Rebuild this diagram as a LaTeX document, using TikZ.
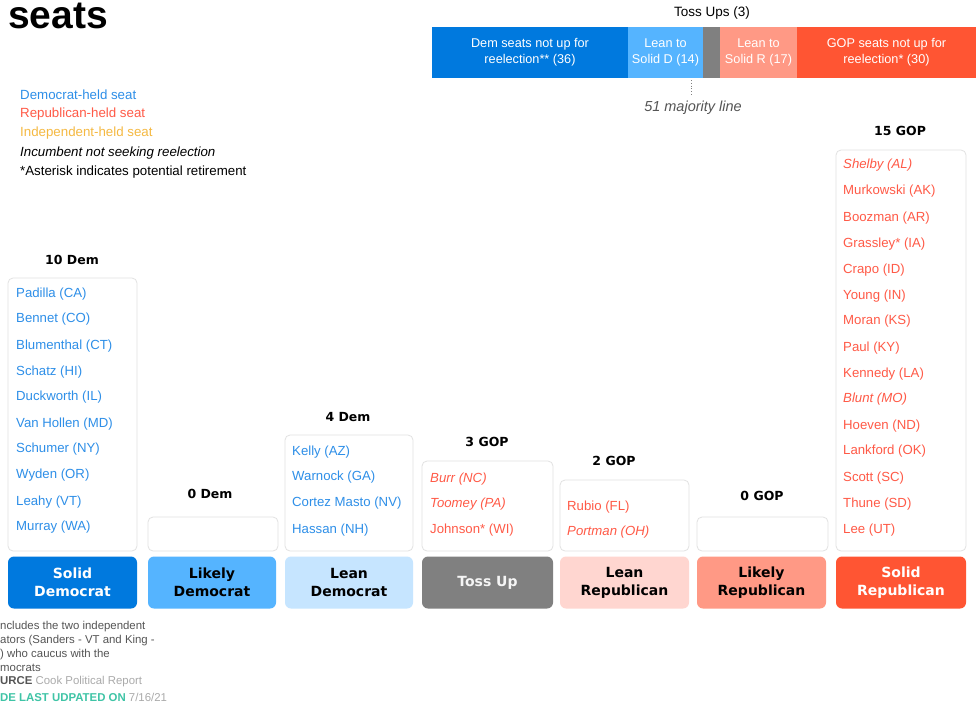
\documentclass[tikz,border=0pt]{standalone}
\usepackage{fontspec}
\setmainfont{Liberation Sans}
\newfontfamily\dvs{DejaVu Sans}
\definecolor{demtxt}{HTML}{2E8FE8}
\definecolor{reptxt}{HTML}{FF5A47}
\definecolor{indtxt}{HTML}{F5B942}
\definecolor{soliddem}{HTML}{0079DE}
\definecolor{likelydem}{HTML}{55B4FF}
\definecolor{leandem}{HTML}{C6E5FF}
\definecolor{tossgray}{HTML}{808080}
\definecolor{leanrep}{HTML}{FFD6D0}
\definecolor{likelyrep}{HTML}{FF9985}
\definecolor{solidrep}{HTML}{FF5533}
\definecolor{boxgray}{HTML}{E2E2E2}
\definecolor{footgray}{HTML}{555555}
\definecolor{lightgray2}{HTML}{AAAAAA}
\definecolor{teal2}{HTML}{3FC4A6}
\begin{document}
\begin{tikzpicture}[x=1pt,y=-1pt,
  nm/.style={anchor=west,inner sep=0pt,font=\fontsize{13.2}{15}\selectfont},
  it/.style={font=\itshape\fontsize{13.2}{15}\selectfont},
  dem/.style={nm,text=demtxt},
  rep/.style={nm,text=reptxt},
  hdr/.style={inner sep=0pt,font=\dvs\bfseries\fontsize{12.5}{14}\selectfont},
  listbox/.style={draw=boxgray,line width=0.8pt,rounded corners=5pt,fill=white,inner sep=0pt},
  catbox/.style={rounded corners=6pt,inner sep=0pt,align=center,minimum height=52pt,
     font=\dvs\bfseries\fontsize{14}{18}\selectfont},
  seg/.style={inner sep=0pt,minimum height=51pt,align=center,text=white,
     font=\fontsize{12.7}{16}\selectfont},
  leg/.style={anchor=west,inner sep=0pt,font=\fontsize{13.3}{15}\selectfont},
  foot/.style={anchor=west,inner sep=0pt,text=footgray,font=\fontsize{11.4}{13}\selectfont}]
\useasboundingbox (0,0) rectangle (976,709);
\fill[white] (0,0) rectangle (976,709);

% title
\node[anchor=base west,inner sep=0pt,font=\bfseries\fontsize{39}{42}\selectfont] (title) at (8,29) {seats};

% legend
\node[leg,text=demtxt] (l1) at (20,95) {Democrat-held seat};
\node[leg,text=reptxt] (l2) at (20,114) {Republican-held seat};
\node[leg,text=indtxt] (l3) at (20,133) {Independent-held seat};
\node[leg,font=\itshape\fontsize{13.3}{15}\selectfont] (l4) at (20,153) {Incumbent not seeking reelection};
\node[leg] (l5) at (20,172) {*Asterisk indicates potential retirement};

% top bar
\node[seg,fill=soliddem,minimum width=196pt] (s1) at (530,52.5) {Dem seats not up for\\reelection** (36)};
\node[seg,fill=likelydem,minimum width=75pt] (s2) at (665.5,52.5) {Lean to\\Solid D (14)};
\node[seg,fill=tossgray,minimum width=17pt] (s3) at (711.5,52.5) {};
\node[seg,fill=likelyrep,minimum width=77pt] (s4) at (758.5,52.5) {Lean to\\Solid R (17)};
\node[seg,fill=solidrep,minimum width=179pt] (s5) at (886.5,52.5) {GOP seats not up for\\reelection* (30)};
\node[inner sep=0pt,font=\fontsize{13.5}{15}\selectfont] (tu) at (712,13) {Toss Ups (3)};
\coordinate (mtop) at (691,80);
\coordinate (mbot) at (691,95);
\draw[gray,dotted,line width=0.8pt] (mtop) -- (mbot);
\node[inner sep=0pt,font=\itshape\fontsize{14.5}{16}\selectfont,text=footgray] (maj) at (693,108) {51 majority line};

% list boxes
\node[listbox,minimum width=129pt,minimum height=273pt] (b1) at (72.5,414.5) {};
\node[listbox,minimum width=130pt,minimum height=34pt] (b2) at (213,534) {};
\node[listbox,minimum width=128pt,minimum height=116pt] (b3) at (349,493) {};
\node[listbox,minimum width=131pt,minimum height=90pt] (b4) at (487.5,506) {};
\node[listbox,minimum width=129pt,minimum height=71pt] (b5) at (624.5,515.5) {};
\node[listbox,minimum width=131pt,minimum height=34pt] (b6) at (762.5,534) {};
\node[listbox,minimum width=130pt,minimum height=401pt] (b7) at (901,350.5) {};

% headers
\node[hdr] (h1) at (72,260) {10 Dem};
\node[hdr] (h2) at (210,494) {0 Dem};
\node[hdr] (h3) at (348,417) {4 Dem};
\node[hdr] (h4) at (487,442) {3 GOP};
\node[hdr] (h5) at (614,461) {2 GOP};
\node[hdr] (h6) at (762,496) {0 GOP};
\node[hdr] (h7) at (900,131) {15 GOP};

% category boxes
\node[catbox,fill=soliddem,text=white,minimum width=129pt] (c1) at (72.5,582.5) {Solid\\Democrat};
\node[catbox,fill=likelydem,text=black,minimum width=128pt] (c2) at (212,582.5) {Likely\\Democrat};
\node[catbox,fill=leandem,text=black,minimum width=128pt] (c3) at (349,582.5) {Lean\\Democrat};
\node[catbox,fill=tossgray,text=white!92!gray,minimum width=131pt] (c4) at (487.5,582.5) {Toss Up};
\node[catbox,fill=leanrep,text=black,minimum width=129pt] (c5) at (624.5,582.5) {Lean\\Republican};
\node[catbox,fill=likelyrep,text=black,minimum width=129pt] (c6) at (761.5,582.5) {Likely\\Republican};
\node[catbox,fill=solidrep,text=white,minimum width=130pt] (c7) at (901,582.5) {Solid\\Republican};

% column 1
\node[dem] (n11) at (16,294) {Padilla (CA)};
\node[dem] (n12) at (16,319) {Bennet (CO)};
\node[dem] (n13) at (16,346) {Blumenthal (CT)};
\node[dem] (n14) at (16,372) {Schatz (HI)};
\node[dem] (n15) at (16,397) {Duckworth (IL)};
\node[dem] (n16) at (16,424) {Van Hollen (MD)};
\node[dem] (n17) at (16,449) {Schumer (NY)};
\node[dem] (n18) at (16,475) {Wyden (OR)};
\node[dem] (n19) at (16,502) {Leahy (VT)};
\node[dem] (n110) at (16,527) {Murray (WA)};

% column 3
\node[dem] (n31) at (292,452) {Kelly (AZ)};
\node[dem] (n32) at (292,477) {Warnock (GA)};
\node[dem] (n33) at (292,503) {Cortez Masto (NV)};
\node[dem] (n34) at (292,530) {Hassan (NH)};

% column 4
\node[rep,it] (n41) at (430,479) {Burr (NC)};
\node[rep,it] (n42) at (430,504) {Toomey (PA)};
\node[rep] (n43) at (430,530) {Johnson* (WI)};

% column 5
\node[rep] (n51) at (567,507) {Rubio (FL)};
\node[rep,it] (n52) at (567,532) {Portman (OH)};

% column 7
\node[rep,it] (n71) at (843,165) {Shelby (AL)};
\node[rep] (n72) at (843,191) {Murkowski (AK)};
\node[rep] (n73) at (843,218) {Boozman (AR)};
\node[rep] (n74) at (843,244) {Grassley* (IA)};
\node[rep] (n75) at (843,270) {Crapo (ID)};
\node[rep] (n76) at (843,296) {Young (IN)};
\node[rep] (n77) at (843,321) {Moran (KS)};
\node[rep] (n78) at (843,348) {Paul (KY)};
\node[rep] (n79) at (843,374) {Kennedy (LA)};
\node[rep,it] (n710) at (843,399) {Blunt (MO)};
\node[rep] (n711) at (843,426) {Hoeven (ND)};
\node[rep] (n712) at (843,451) {Lankford (OK)};
\node[rep] (n713) at (843,478) {Scott (SC)};
\node[rep] (n714) at (843,504) {Thune (SD)};
\node[rep] (n715) at (843,530) {Lee (UT)};

% footnotes
\node[foot] (f1) at (0,627) {ncludes the two independent};
\node[foot] (f2) at (0,641) {ators (Sanders - VT and King -};
\node[foot] (f3) at (0,655) {) who caucus with the};
\node[foot] (f4) at (0,668) {mocrats};
\node[foot] (f5) at (0,682) {\textbf{URCE} \textcolor{lightgray2}{Cook Political Report}};
\node[foot,text=teal2] (f6) at (0,697) {\textbf{DE LAST UDPATED ON} \textcolor{lightgray2}{7/16/21}};
\end{tikzpicture}
\end{document}
